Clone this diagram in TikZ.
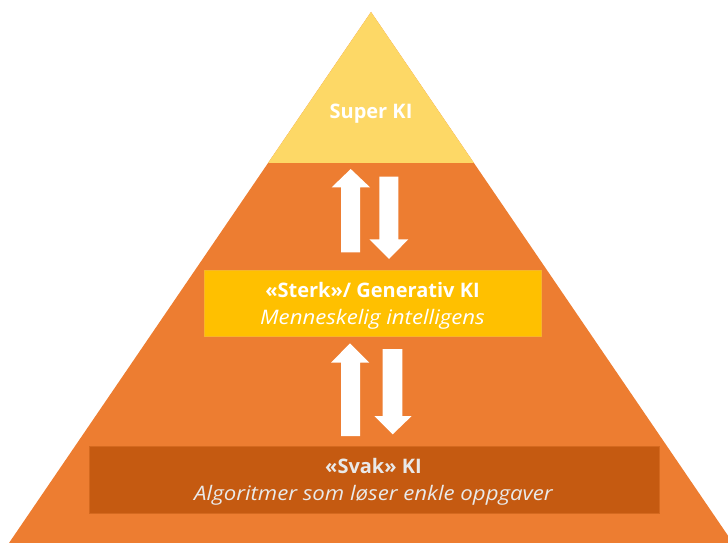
\documentclass[tikz,border=0pt]{standalone}
\usepackage{graphicx}
\usepackage{fontspec}
\setmainfont{Open Sans}
\definecolor{topyellow}{HTML}{FDD866}
\definecolor{pyrorange}{HTML}{ED7D31}
\definecolor{midgold}{HTML}{FFC000}
\definecolor{midedge}{HTML}{F7B52A}
\definecolor{lowbrown}{HTML}{C55A11}
\definecolor{lowedge}{HTML}{D4691F}
\definecolor{lowtext}{HTML}{E9E9E9}
\newcommand{\widesub}[1]{\scalebox{1.11}[1]{#1}}
\begin{document}
\begin{tikzpicture}[x=1pt,y=-1pt,
  boxmid/.style={draw=midedge, line width=1pt, fill=midgold, minimum width=337pt, minimum height=66pt, inner sep=0pt},
  boxlow/.style={draw=lowedge, line width=1pt, fill=lowbrown, minimum width=570pt, minimum height=67pt, inner sep=0pt},
  ttl/.style={anchor=base, inner sep=0pt, font=\fontsize{20}{24}\selectfont\bfseries},
  sub/.style={anchor=base, inner sep=0pt, font=\fontsize{20}{24}\selectfont\itshape},
  blockarrow/.style={fill=white, draw=none}
]
\useasboundingbox (0,0) rectangle (728,543);
\begin{scope}
  \clip (0,0) rectangle (728,543);
  \fill[pyrorange] (371,12) -- (9,543) -- (733,543) -- cycle;
  \begin{scope}
    \clip (0,0) rectangle (728,162.5);
    \fill[topyellow] (371,12) -- (9,543) -- (733,543) -- cycle;
  \end{scope}
\end{scope}
% upper arrows
\fill[blockarrow] (341,252.3) -- (341,187.3) -- (331.7,187.3) -- (350.7,169) -- (370,187.3) -- (360,187.3) -- (360,252.3) -- cycle;
\fill[blockarrow] (379.3,176.7) -- (398.3,176.7) -- (398.3,239.3) -- (408.3,239.3) -- (389,259) -- (369.3,239.3) -- (379.3,239.3) -- cycle;
% lower arrows
\fill[blockarrow] (341,436) -- (341,362.7) -- (331,362.7) -- (350,343.3) -- (369.3,362.7) -- (360,362.7) -- (360,436) -- cycle;
\fill[blockarrow] (382.7,349) -- (402.3,349) -- (402.3,416) -- (411.7,416) -- (392.7,434.3) -- (374.3,416) -- (382.7,416) -- cycle;
% boxes
\node[boxmid] (mid) at (372.8,303.7) {};
\node[boxlow] (low) at (374,479.5) {};
% texts
\node[ttl, text=white] (super) at (371,118.3) {Super KI};
\node[ttl, text=white] (sterk) at (372.5,297.7) {«Sterk»/ Generativ KI};
\node[sub, text=white] (menn) at (372.5,324.3) {\widesub{Menneskelig intelligens}};
\node[ttl, text=lowtext] (svak) at (373.5,473.3) {«Svak» KI};
\node[sub, text=lowtext] (algo) at (373.5,500.7) {\widesub{Algoritmer som løser enkle oppgaver}};
\end{tikzpicture}
\end{document}
